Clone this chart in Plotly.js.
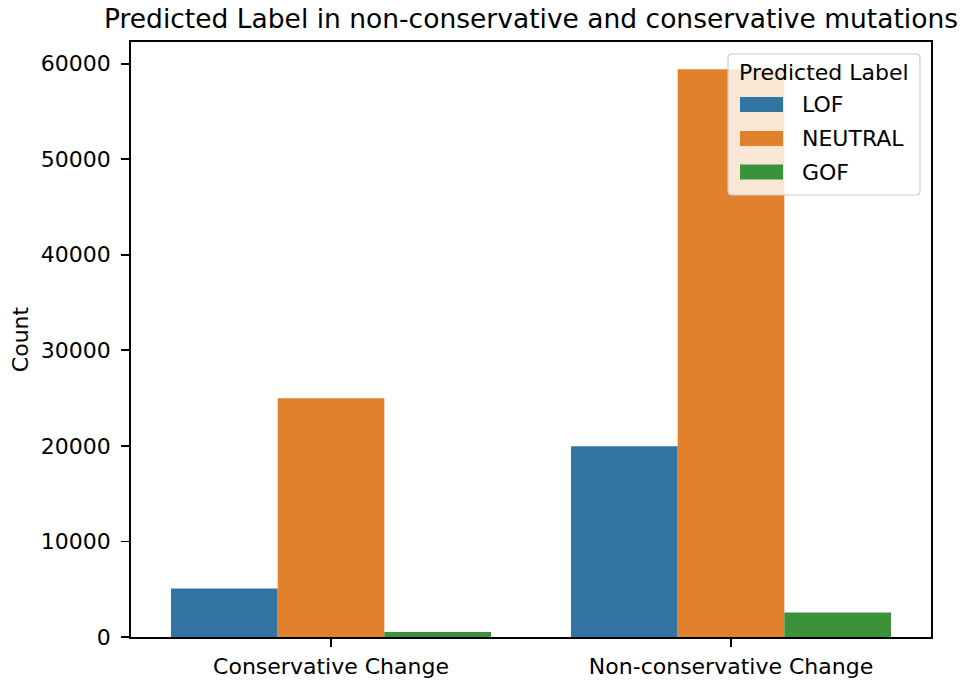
<!DOCTYPE html>
<html>
<head>
<meta charset="utf-8">
<script src="https://cdn.plot.ly/plotly-3.0.1.min.js"></script>
<style>
  html, body { margin: 0; padding: 0; background: #fff; }
  #chart { width: 970px; height: 682px; }
</style>
</head>
<body>
<div id="chart"></div>
<script>
// Mutation types on the x axis
const categories = ["Conservative Change", "Non-conservative Change"];

// Count of each predicted label per mutation type
const labels = ["LOF", "NEUTRAL", "GOF"];
const lofCounts = [5080, 19960];
const neutralCounts = [24980, 59400];
const gofCounts = [520, 2570];
const colors = ["#3274a1", "#e1812c", "#3a923a"];

const chartTitle = "Predicted Label in non-conservative and conservative mutations";
const yTitle = "Count";
const legendTitle = "Predicted Label";
const yTicks = [0, 10000, 20000, 30000, 40000, 50000, 60000];

const seriesValues = [lofCounts, neutralCounts, gofCounts];
const FONT = "DejaVu Sans, Liberation Sans, sans-serif";
const FS = 22;

const traces = labels.map((name, i) => ({
  type: "bar",
  name: name,
  x: categories,
  y: seriesValues[i],
  marker: { color: colors[i], line: { width: 0 } },
  showlegend: false,
  hoverinfo: "x+y+name"
}));

// Plot area geometry (pixels) used to place the hand-built legend box
const W = 970, H = 682;
const M = { l: 131, r: 39, t: 42, b: 45 };
const PW = W - M.l - M.r, PH = H - M.t - M.b;
const px = x => (x - M.l) / PW;
const py = y => (H - M.b - y) / PH;

// Rounded legend frame
function roundedRect(x0, y0, x1, y1, r) {
  const p = (x, y) => px(x) + "," + py(y);
  return "M" + p(x0 + r, y0) +
    " L" + p(x1 - r, y0) + " Q" + p(x1, y0) + " " + p(x1, y0 + r) +
    " L" + p(x1, y1 - r) + " Q" + p(x1, y1) + " " + p(x1 - r, y1) +
    " L" + p(x0 + r, y1) + " Q" + p(x0, y1) + " " + p(x0, y1 - r) +
    " L" + p(x0, y0 + r) + " Q" + p(x0, y0) + " " + p(x0 + r, y0) + " Z";
}

const box = { x0: 728, y0: 54, x1: 920, y1: 195 };
const shapes = [{
  type: "path", xref: "paper", yref: "paper",
  path: roundedRect(box.x0, box.y0, box.x1, box.y1, 4),
  fillcolor: "rgba(255,255,255,0.8)",
  line: { color: "#cccccc", width: 1.2 },
  layer: "above"
}];
const annotations = [{
  xref: "paper", yref: "paper",
  x: px((box.x0 + box.x1) / 2), y: py(72),
  xanchor: "center", yanchor: "middle",
  text: legendTitle, showarrow: false,
  font: { family: FONT, size: FS, color: "#000" }
}];
const rowCenters = [104.5, 138.5, 172];
labels.forEach((name, i) => {
  const yc = rowCenters[i];
  shapes.push({
    type: "rect", xref: "paper", yref: "paper",
    x0: px(740), x1: px(783), y0: py(yc - 7.5), y1: py(yc + 7.5),
    fillcolor: colors[i], line: { width: 0 }, layer: "above"
  });
  annotations.push({
    xref: "paper", yref: "paper",
    x: px(800), y: py(yc),
    xanchor: "left", yanchor: "middle",
    text: name, showarrow: false,
    font: { family: FONT, size: FS, color: "#000" }
  });
});

const layout = {
  width: W, height: H,
  margin: M,
  paper_bgcolor: "#ffffff",
  plot_bgcolor: "#ffffff",
  font: { family: FONT, size: FS, color: "#000" },
  barmode: "group",
  bargap: 0.2,
  bargroupgap: 0,
  showlegend: false,
  title: {
    text: chartTitle,
    font: { family: FONT, size: 26.5, color: "#000" },
    xref: "paper", x: 0.5, xanchor: "center",
    yref: "container", y: 1 - 19 / H, yanchor: "middle"
  },
  xaxis: {
    type: "category",
    range: [-0.5, 1.5],
    showline: true, mirror: true, linecolor: "#000", linewidth: 1.8,
    ticks: "outside", ticklen: 8, tickwidth: 1.8, tickcolor: "#000",
    showgrid: false, zeroline: false,
    tickfont: { family: FONT, size: FS, color: "#000" },
    ticklabelstandoff: 1
  },
  yaxis: {
    range: [0, 62260],
    tickvals: yTicks,
    ticktext: yTicks.map(String),
    showline: true, mirror: true, linecolor: "#000", linewidth: 1.8,
    ticks: "outside", ticklen: 8, tickwidth: 1.8, tickcolor: "#000",
    showgrid: false, zeroline: false,
    tickfont: { family: FONT, size: FS, color: "#000" },
    ticklabelstandoff: 6,
    title: { text: yTitle, font: { family: FONT, size: FS, color: "#000" }, standoff: 6 }
  },
  shapes: shapes,
  annotations: annotations
};

Plotly.newPlot("chart", traces, layout, { displayModeBar: false, staticPlot: true });
</script>
</body>
</html>
